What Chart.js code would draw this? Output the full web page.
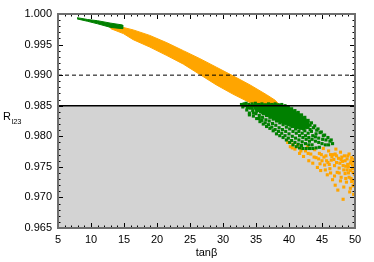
<!DOCTYPE html>
<html>
<head>
<meta charset="utf-8">
<script src="https://cdn.jsdelivr.net/npm/chart.js@4.4.0/dist/chart.umd.min.js"></script>
<style>
  body { margin: 0; background: #fff; }
</style>
</head>
<body>
<canvas id="myChart" width="374" height="262"></canvas>
<script>
// tanβ vs R_l23
const xTicks = [5, 10, 15, 20, 25, 30, 35, 40, 45, 50];
const yTicks = [0.965, 0.970, 0.975, 0.980, 0.985, 0.990, 0.995, 1.000];
const boundLine = 0.985;
const dashLine = 0.990;

// dense parts of the point clouds: outline (upper edge, then lower edge back)
const greenTopBand = [
  [7.9, 0.9994], [9.5, 0.9991], [11.0, 0.9989], [13.0, 0.9985], [14.8, 0.9982],
  [14.8, 0.9976], [13.0, 0.9978], [11.0, 0.9984], [9.5, 0.9988], [7.9, 0.9992]
];
const orangeBand = [
  [12.5, 0.9981], [14.9, 0.9978], [16.4, 0.9974], [18.9, 0.9965], [21.5, 0.9953],
  [24.0, 0.9940], [26.5, 0.9927], [29.0, 0.9913], [31.5, 0.9899], [34.1, 0.9884],
  [36.6, 0.9868], [37.9, 0.9859], [38.6, 0.9851],
  [36.0, 0.9851], [34.1, 0.9855], [31.5, 0.9869], [29.0, 0.9884], [26.5, 0.9901],
  [24.0, 0.9918], [21.5, 0.9932], [18.9, 0.9946], [16.4, 0.9958], [14.9, 0.9968],
  [13.0, 0.9976]
];
const greenCore = [
  [34.6, 0.9853], [38.5, 0.9853], [40.2, 0.9846], [41.7, 0.9836], [43.0, 0.9825],
  [43.0, 0.9813], [41.7, 0.9811], [40.2, 0.9816], [38.6, 0.9823], [37.1, 0.9831],
  [35.6, 0.9839], [34.6, 0.9846]
];

// scattered points below the 0.985 line
const greenPoints = [
  [32.8, 0.9852], [33.0, 0.9848], [33.2, 0.9853],
  [33.4, 0.9850], [33.6, 0.9843], [33.5, 0.9854], [33.7, 0.9847],
  [33.9, 0.9852], [34.0, 0.9838], [34.1, 0.9846], [34.2, 0.9850], [34.0, 0.9835],
  [34.4, 0.9853], [34.5, 0.9842], [34.6, 0.9833], [34.4, 0.9847], [34.7, 0.9850], [34.6, 0.9838],
  [34.9, 0.9854], [35.0, 0.9845], [35.1, 0.9829], [35.0, 0.9837], [35.2, 0.9850], [35.1, 0.9841],
  [35.4, 0.9852], [35.5, 0.9834], [35.6, 0.9824], [35.4, 0.9846], [35.7, 0.9840], [35.6, 0.9849], [35.5, 0.9829],
  [35.9, 0.9853], [36.0, 0.9843], [36.1, 0.9820], [36.0, 0.9831], [36.2, 0.9848], [36.1, 0.9837], [35.9, 0.9826],
  [36.4, 0.9851], [36.5, 0.9840], [36.6, 0.9816], [36.5, 0.9827], [36.7, 0.9845], [36.6, 0.9834], [36.4, 0.9822],
  [36.9, 0.9853], [37.0, 0.9838], [37.1, 0.9813], [37.0, 0.9825], [37.2, 0.9847], [37.1, 0.9831], [36.9, 0.9819], [37.2, 0.9842],
  [37.4, 0.9852], [37.5, 0.9835], [37.6, 0.9809], [37.5, 0.9821], [37.7, 0.9846], [37.6, 0.9828], [37.4, 0.9815], [37.7, 0.9840],
  [37.9, 0.9853], [38.0, 0.9832], [38.1, 0.9804], [38.0, 0.9818], [38.2, 0.9845], [38.1, 0.9825], [37.9, 0.9811], [38.2, 0.9838],
  [38.4, 0.9851], [38.5, 0.9829], [38.6, 0.9801], [38.5, 0.9814], [38.7, 0.9843], [38.6, 0.9822], [38.4, 0.9808], [38.7, 0.9836],
  [38.9, 0.9852], [39.0, 0.9826], [39.1, 0.9798], [39.0, 0.9811], [39.2, 0.9844], [39.1, 0.9819], [38.9, 0.9805], [39.2, 0.9833], [39.0, 0.9839],
  [39.4, 0.9850], [39.5, 0.9823], [39.6, 0.9794], [39.5, 0.9808], [39.7, 0.9842], [39.6, 0.9815], [39.4, 0.9801], [39.7, 0.9830], [39.5, 0.9836],
  [39.9, 0.9848], [40.0, 0.9820], [40.1, 0.9790], [40.0, 0.9804], [40.2, 0.9840], [40.1, 0.9812], [39.9, 0.9797], [40.2, 0.9827], [40.0, 0.9834],
  [40.4, 0.9845], [40.5, 0.9816], [40.6, 0.9786], [40.5, 0.9800], [40.7, 0.9837], [40.6, 0.9808], [40.4, 0.9793], [40.7, 0.9824], [40.5, 0.9830],
  [40.9, 0.9842], [41.0, 0.9812], [41.1, 0.9783], [41.0, 0.9797], [41.2, 0.9834], [41.1, 0.9805], [40.9, 0.9790], [41.2, 0.9820], [41.0, 0.9827],
  [41.4, 0.9839], [41.5, 0.9808], [41.6, 0.9781], [41.5, 0.9794], [41.7, 0.9830], [41.6, 0.9801], [41.4, 0.9787], [41.7, 0.9816], [41.5, 0.9823],
  [41.9, 0.9835], [42.0, 0.9805], [42.1, 0.9780], [42.0, 0.9791], [42.2, 0.9826], [42.1, 0.9798], [41.9, 0.9785], [42.2, 0.9812], [42.0, 0.9819],
  [42.4, 0.9831], [42.5, 0.9801], [42.6, 0.9780], [42.5, 0.9788], [42.7, 0.9822], [42.6, 0.9795], [42.4, 0.9809], [42.7, 0.9815],
  [42.9, 0.9826], [43.0, 0.9798], [43.1, 0.9780], [43.0, 0.9786], [43.2, 0.9818], [43.1, 0.9792], [42.9, 0.9805], [43.2, 0.9811],
  [43.4, 0.9822], [43.5, 0.9795], [43.6, 0.9780], [43.5, 0.9786], [43.7, 0.9814], [43.6, 0.9801], [43.4, 0.9808],
  [43.9, 0.9817], [44.0, 0.9792], [44.1, 0.9781], [44.0, 0.9799], [44.2, 0.9810], [44.1, 0.9804],
  [44.4, 0.9812], [44.5, 0.9790], [44.6, 0.9782], [44.5, 0.9797], [44.7, 0.9806],
  [44.9, 0.9807], [45.0, 0.9788], [45.1, 0.9795], [45.2, 0.9801],
  [45.4, 0.9802], [45.5, 0.9786], [45.6, 0.9794],
  [45.9, 0.9798], [46.0, 0.9786], [46.2, 0.9792],
  [46.4, 0.9794], [46.6, 0.9788]
];
const orangePoints = [
  [39.8, 0.9790], [40.2, 0.9783], [40.6, 0.9787], [40.9, 0.9779], [41.3, 0.9785], [41.6, 0.9772], [41.9, 0.9780],
  [42.2, 0.9767], [42.5, 0.9776], [42.8, 0.9783], [43.0, 0.9760], [43.3, 0.9771], [43.6, 0.9756], [43.9, 0.9778],
  [44.1, 0.9765], [44.3, 0.9749], [44.6, 0.9772], [44.8, 0.9744], [45.0, 0.9760], [45.2, 0.9780], [45.4, 0.9753],
  [45.6, 0.9768], [45.8, 0.9737], [46.0, 0.9776], [46.2, 0.9747], [46.4, 0.9761], [46.6, 0.9729], [46.7, 0.9770],
  [46.9, 0.9752], [47.0, 0.9720], [47.1, 0.9779], [47.3, 0.9741], [47.4, 0.9712], [47.5, 0.9764], [47.7, 0.9756],
  [47.8, 0.9774], [47.9, 0.9733], [48.1, 0.9759], [48.2, 0.9697], [48.3, 0.9745], [48.4, 0.9768], [48.6, 0.9751],
  [48.7, 0.9725], [48.8, 0.9763], [49.0, 0.9740], [49.1, 0.9771], [49.2, 0.9709], [49.3, 0.9756], [49.4, 0.9731],
  [49.5, 0.9765], [49.6, 0.9747], [49.7, 0.9719], [49.8, 0.9758], [49.9, 0.9738], [49.9, 0.9762], [48.9, 0.9754],
  [48.0, 0.9766], [47.6, 0.9748], [46.5, 0.9767], [45.9, 0.9757],
  [44.5, 0.9763], [44.9, 0.9770], [45.3, 0.9766], [45.7, 0.9760], [46.1, 0.9754], [46.3, 0.9770],
  [46.8, 0.9762], [47.2, 0.9757], [47.2, 0.9768], [47.6, 0.9740], [47.9, 0.9762], [48.2, 0.9752],
  [48.5, 0.9739], [48.5, 0.9760], [48.8, 0.9745], [49.0, 0.9750], [49.1, 0.9733], [49.3, 0.9744],
  [49.4, 0.9760], [49.6, 0.9753], [49.7, 0.9741], [49.8, 0.9728], [49.9, 0.9749], [49.9, 0.9722],
  [49.5, 0.9726], [48.6, 0.9731], [48.3, 0.9717], [47.8, 0.9727], [46.9, 0.9735], [46.3, 0.9740],
  [45.5, 0.9745], [44.7, 0.9755], [43.8, 0.9766], [42.9, 0.9772], [41.8, 0.9776], [40.5, 0.9781],
  [49.8, 0.9705], [49.3, 0.9715], [47.0, 0.9771], [48.9, 0.9768]
];

const ORANGE = '#ffa500';
const GREEN = '#008000';
const FONT = 'Liberation Sans, Arial, sans-serif';

const toXY = (arr) => arr.map(([x, y]) => ({ x, y }));
const xMin = xTicks[0], xMax = xTicks[xTicks.length - 1];

// gnuplot-like frame: ticks pointing inward on all four sides, plus axis titles
const framePlugin = {
  id: 'frame',
  afterDatasetsDraw(chart) {
    const { ctx, chartArea: a, scales: { x, y } } = chart;
    ctx.save();
    ctx.strokeStyle = '#000';
    ctx.lineWidth = 1;
    ctx.beginPath();
    for (let v = xMin; v <= xMax; v++) {
      const px = Math.round(x.getPixelForValue(v)) + 0.5;
      const len = v % 5 === 0 ? 5 : 2.5;
      ctx.moveTo(px, a.bottom); ctx.lineTo(px, a.bottom - len);
      ctx.moveTo(px, a.top); ctx.lineTo(px, a.top + len);
    }
    for (let i = 0; i <= 35; i++) {
      const py = Math.round(y.getPixelForValue(0.965 + i * 0.001)) + 0.5;
      const len = i % 5 === 0 ? 5 : 2.5;
      ctx.moveTo(a.left, py); ctx.lineTo(a.left + len, py);
      ctx.moveTo(a.right, py); ctx.lineTo(a.right - len, py);
    }
    ctx.stroke();
    ctx.strokeStyle = '#6e6e6e';
    ctx.lineWidth = 2;
    ctx.strokeRect(a.left, a.top, a.right - a.left, a.bottom - a.top);

    ctx.fillStyle = '#000';
    ctx.textBaseline = 'alphabetic';
    ctx.font = '11px ' + FONT;
    ctx.textAlign = 'center';
    ctx.fillText('tanβ', (a.left + a.right) / 2, 256);
    ctx.textAlign = 'left';
    ctx.fillText('R', 3, 120);
    ctx.font = '7.5px ' + FONT;
    ctx.fillText('l23', 11.5, 124);
    ctx.restore();
  }
};

const shape = (arr, color) => ({
  data: toXY(arr), showLine: true, borderColor: color, borderWidth: 1,
  backgroundColor: color, pointRadius: 0, fill: 'shape'
});
const dots = (arr, color) => ({
  data: toXY(arr), pointStyle: 'rect', pointRadius: 2.2, borderWidth: 0, backgroundColor: color
});

new Chart(document.getElementById('myChart'), {
  type: 'scatter',
  data: {
    datasets: [
      { data: toXY([[xMin, dashLine], [xMax, dashLine]]), showLine: true, borderColor: '#000',
        borderWidth: 1, borderDash: [4, 3], pointRadius: 0, fill: false },
      { data: toXY([[xMin, boundLine], [xMax, boundLine]]), showLine: true, borderColor: '#000',
        borderWidth: 1.5, pointRadius: 0, fill: false },
      shape(greenTopBand, GREEN),
      dots(greenPoints, GREEN),
      shape(greenCore, GREEN),
      dots(orangePoints, ORANGE),
      shape(orangeBand, ORANGE),
      { data: toXY([[xMin, boundLine], [xMax, boundLine]]), showLine: true, borderWidth: 0,
        backgroundColor: '#d3d3d3', pointRadius: 0, fill: 'start' }
    ]
  },
  options: {
    responsive: false,
    animation: false,
    events: [],
    layout: { padding: { top: 14, right: 19, left: 0, bottom: 0 } },
    plugins: { legend: { display: false }, tooltip: { enabled: false } },
    scales: {
      x: {
        type: 'linear', min: xMin, max: xMax,
        afterFit(s) { s.height = 34; },
        afterBuildTicks(s) { s.ticks = xTicks.map(v => ({ value: v })); },
        grid: { display: false, drawTicks: false },
        border: { display: false },
        ticks: { padding: 5, color: '#000', font: { family: FONT, size: 11 }, autoSkip: false,
          maxRotation: 0 }
      },
      y: {
        type: 'linear', min: yTicks[0], max: yTicks[yTicks.length - 1],
        afterFit(s) { s.width = 58; },
        afterBuildTicks(s) { s.ticks = yTicks.map(v => ({ value: v })); },
        grid: { display: false, drawTicks: false },
        border: { display: false },
        ticks: { padding: 6, color: '#000', font: { family: FONT, size: 11 }, autoSkip: false,
          callback: (v) => Number(v).toFixed(3) }
      }
    }
  },
  plugins: [framePlugin]
});
</script>
</body>
</html>
